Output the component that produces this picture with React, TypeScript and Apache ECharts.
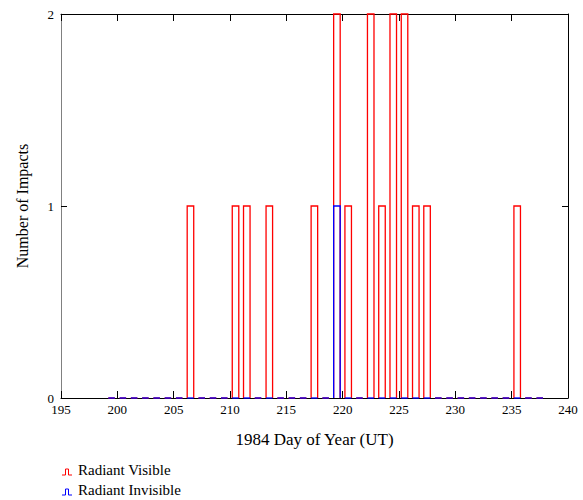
import React, { useEffect, useRef } from "react";
import * as echarts from "echarts";

// Days (1984 day of year) with impacts, and counts per day
const visibleDays = [206, 210, 211, 213, 217, 219, 220, 222, 223, 224, 225, 226, 227, 235];
const visibleCounts = [1, 1, 1, 1, 1, 2, 1, 2, 1, 2, 2, 1, 1, 1];
const invisibleDays = [219];
const invisibleCounts = [1];
// Range of histogram bins shown (zero-count bins drawn on the baseline)
const firstBinDay = 199;
const lastBinDay = 237;

const xTickMin = 195;
const xTickMax = 240;
const xTickStep = 5;
const yTickMin = 0;
const yTickMax = 2;
const yTickStep = 1;

const seriesNames = ["Radiant Visible", "Radiant Invisible"];
const xTitle = "1984 Day of Year (UT)";
const yTitle = "Number of Impacts";

const FONT = "Liberation Serif";
const RED = "#ff0000";
const BLUE = "#0000ff";

function buildBins(days: number[], counts: number[]) {
  const out: number[][] = [];
  for (let d = firstBinDay; d <= lastBinDay; d++) {
    const i = days.indexOf(d);
    out.push([d, i >= 0 ? counts[i] : 0]);
  }
  return out;
}

function makeRender(color: string) {
  return (params: any, api: any) => {
    const d = api.value(0);
    const c = api.value(1);
    const a = d + 0.2;
    const b = d + 0.78;
    const pts = [api.coord([a, 0]), api.coord([a, c]), api.coord([b, c]), api.coord([b, 0])];
    return {
      type: "polyline",
      shape: { points: pts },
      style: { stroke: color, fill: "none", lineWidth: 1.3 },
    };
  };
}

export default function App() {
  const ref = useRef<HTMLDivElement>(null);
  useEffect(() => {
    if (!ref.current) return;
    const chart = echarts.init(ref.current, null, { renderer: "svg" });
    const xCommon = {
      type: "value",
      min: xTickMin,
      max: xTickMax,
      interval: xTickStep,
      splitLine: { show: false },
      axisTick: { show: true, inside: true, length: 7, lineStyle: { color: "#000" } },
    };
    const yCommon = {
      type: "value",
      min: yTickMin,
      max: yTickMax,
      interval: yTickStep,
      splitLine: { show: false },
      axisTick: { show: true, inside: true, length: 6, lineStyle: { color: "#000" } },
    };
    const legendIcon = (y: number, color: string) => ({
      type: "polyline",
      shape: {
        points: [
          [62, y],
          [65.5, y],
          [65.5, y - 6],
          [68.5, y - 6],
          [68.5, y],
          [72, y],
        ],
      },
      style: { stroke: color, fill: "none", lineWidth: 1 },
    });
    chart.setOption({
      animation: false,
      backgroundColor: "#fff",
      grid: { left: 61, right: 15, top: 14, bottom: 102 },
      xAxis: [
        {
          ...xCommon,
          position: "bottom",
          axisLine: { show: true, onZero: false, lineStyle: { color: "#000", width: 1 } },
          axisLabel: { fontFamily: FONT, fontSize: 13, color: "#000", margin: 5 },
          name: xTitle,
          nameLocation: "middle",
          nameGap: 33,
          nameTextStyle: { fontFamily: FONT, fontSize: 17, color: "#000" },
        },
        {
          ...xCommon,
          position: "top",
          axisLine: { show: true, onZero: false, lineStyle: { color: "#000", width: 1 } },
          axisLabel: { show: false },
        },
      ],
      yAxis: [
        {
          ...yCommon,
          position: "left",
          axisLine: { show: true, onZero: false, lineStyle: { color: "#808080", width: 1 } },
          axisLabel: { fontFamily: FONT, fontSize: 13, color: "#000", margin: 7 },
          name: yTitle,
          nameLocation: "middle",
          nameGap: 31,
          nameTextStyle: { fontFamily: FONT, fontSize: 16, color: "#000" },
        },
        {
          ...yCommon,
          position: "right",
          axisLine: { show: true, onZero: false, lineStyle: { color: "#000", width: 1 } },
          axisLabel: { show: false },
        },
      ],
      series: [
        {
          name: seriesNames[0],
          type: "custom",
          xAxisIndex: 0,
          yAxisIndex: 0,
          renderItem: makeRender(RED),
          encode: { x: 0, y: 1 },
          data: buildBins(visibleDays, visibleCounts),
          z: 2,
        },
        {
          name: seriesNames[1],
          type: "custom",
          xAxisIndex: 0,
          yAxisIndex: 0,
          renderItem: makeRender(BLUE),
          encode: { x: 0, y: 1 },
          data: buildBins(invisibleDays, invisibleCounts),
          z: 3,
        },
      ],
      graphic: [
        legendIcon(475, RED),
        {
          type: "text",
          left: 78,
          top: 462,
          style: { text: seriesNames[0], fontFamily: FONT, fontSize: 15, fill: "#000" },
        },
        legendIcon(495, BLUE),
        {
          type: "text",
          left: 78,
          top: 482,
          style: { text: seriesNames[1], fontFamily: FONT, fontSize: 15, fill: "#000" },
        },
      ],
    });
    return () => chart.dispose();
  }, []);
  return (
    <div
      ref={ref}
      style={{ position: "fixed", left: 0, top: 0, width: 583, height: 500 }}
    />
  );
}
